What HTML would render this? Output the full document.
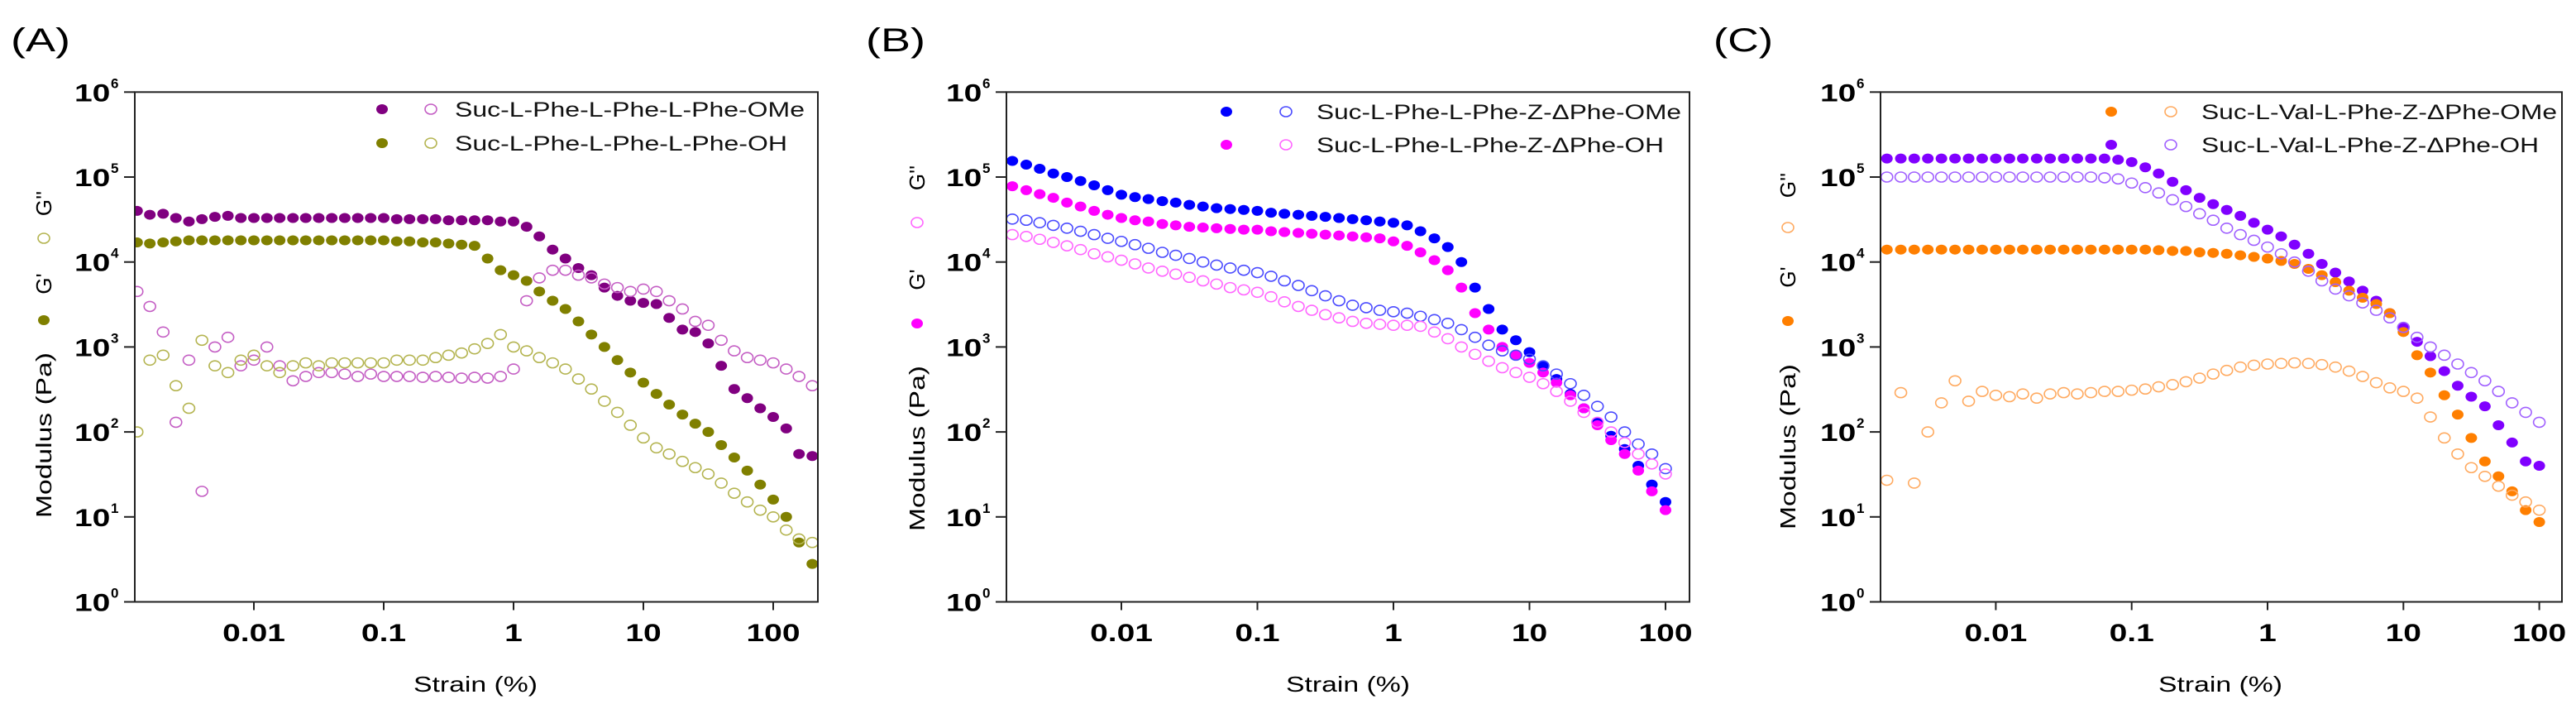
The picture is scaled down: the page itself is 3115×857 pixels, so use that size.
<!DOCTYPE html>
<html><head><meta charset="utf-8"><style>
html,body{margin:0;padding:0;background:#fff;}
svg{display:block;font-family:"Liberation Sans",sans-serif;}
</style></head><body>
<svg id="fig" xmlns="http://www.w3.org/2000/svg" width="3115" height="857" viewBox="0 0 3115 857">
<rect x="0" y="0" width="3115" height="857" fill="#fff"/>
</svg>
<script>
const strainA=[0.00126,0.00158,0.002,0.00251,0.00316,0.00398,0.00501,0.00631,0.00794,
0.01,0.0126,0.0158,0.02,0.0251,0.0316,0.0398,0.0501,0.0631,0.0794,
0.1,0.126,0.158,0.2,0.251,0.316,0.398,0.501,0.631,0.794,
1,1.26,1.58,2,2.51,3.16,3.98,5.01,6.31,7.94,
10,12.6,15.8,20,25.1,31.6,39.8,50.1,63.1,79.4,
100,126,158,200];
const strainBC=[0.00158,0.002,0.00251,0.00316,0.00398,0.00501,0.00631,0.00794,
0.01,0.0126,0.0158,0.02,0.0251,0.0316,0.0398,0.0501,0.0631,0.0794,
0.1,0.126,0.158,0.2,0.251,0.316,0.398,0.501,0.631,0.794,
1,1.26,1.58,2,2.51,3.16,3.98,5.01,6.31,7.94,
10,12.6,15.8,20,25.1,31.6,39.8,50.1,63.1,79.4,100];

const aOMeGp=[40000,36000,37000,33000,30000,32000,34000,35000,33000,33000,
33000,33000,33000,33000,33000,33000,33000,33000,33000,33000,
32000,32000,32000,32000,31000,31000,31000,31000,30000,30000,
26000,20000,14000,11000,8500,7000,5000,4000,3500,3300,
3200,2200,1600,1500,1100,600,320,250,190,150,110,55,52];
const aOMeGpp=[4500,3000,1500,130,700,20,1000,1300,600,700,
1000,600,400,450,500,500,480,450,480,450,
450,450,440,450,440,430,440,430,450,550,
3500,6500,8000,8000,7000,6500,5500,5000,4500,4800,
4500,3500,2800,2000,1800,1200,900,750,700,650,550,450,350];
const aOHGp=[17000,16500,17000,17500,18000,18000,18000,18000,18000,18000,
18000,18000,18000,18000,18000,18000,18000,18000,18000,18000,
17500,17500,17000,17000,16500,16000,15500,11000,8000,7000,
6000,4500,3500,2800,2000,1400,1000,700,500,380,
280,210,160,125,100,70,50,35,24,16,10,5,2.8];
const aOHGpp=[100,700,800,350,190,1200,600,500,700,800,
600,500,600,650,600,650,650,650,650,650,
700,700,700,750,800,850,950,1100,1400,1000,
900,750,650,550,420,320,230,170,120,85,
65,55,45,38,32,25,19,15,12,10,7,5.5,5];

const bOMeGp=[155000,140000,125000,110000,100000,90000,80000,70000,62000,
58000,55000,52000,50000,47000,45000,43000,42000,41000,40000,
38000,37000,36000,35000,34000,33000,32000,31000,30000,29000,
27000,23000,19000,15000,10000,5000,2800,1600,1200,870,
600,420,280,190,130,90,63,40,24,15];
const bOHGp=[78000,70000,63000,57000,50000,45000,40000,36000,33000,
31000,30000,28000,27000,26000,25500,25000,24500,24000,24000,
23000,22500,22000,21500,21000,20500,20000,19500,19000,17500,
15500,13000,10500,8000,5000,2500,1600,1000,800,650,
500,380,270,190,120,80,55,35,20,12];
const bOMeGpp=[32000,31000,29000,27000,25000,23000,21000,19000,17500,
16000,14500,13000,12000,11000,10000,9200,8500,8000,7500,
6800,6000,5300,4600,4000,3500,3100,2900,2700,2600,
2500,2300,2100,1900,1600,1300,1050,900,800,720,
600,480,370,270,200,150,100,72,55,37];
const bOHGpp=[21000,20000,18500,17000,15500,14000,12500,11500,10500,
9500,8500,7800,7200,6600,6000,5500,5000,4700,4400,
3900,3400,3000,2700,2400,2200,2000,1900,1850,1800,
1800,1750,1500,1250,1000,820,680,570,500,440,
370,300,230,170,130,100,75,55,42,32];

const cOHGp=[165000,165000,165000,165000,165000,165000,165000,165000,165000,
165000,165000,165000,165000,165000,165000,165000,165000,160000,150000,
130000,110000,88000,70000,57000,48000,41000,35000,29000,24000,
20000,16000,12500,9500,7500,5900,4600,3500,2500,1700,
1150,780,520,350,260,200,120,75,45,40];
const cOHGpp=[100000,100000,100000,100000,100000,100000,100000,100000,100000,
100000,100000,100000,100000,100000,100000,100000,98000,95000,85000,
75000,65000,54000,45000,37000,31000,25000,21000,18000,15000,
12500,10000,7800,6000,4800,4000,3300,2700,2200,1700,
1300,1000,800,630,500,400,300,220,170,130];
const cOMeGp=[14000,14000,14000,14000,14000,14000,14000,14000,14000,
14000,14000,14000,14000,14000,14000,14000,14000,14000,14000,
14000,13800,13500,13500,13000,12800,12500,12000,11500,11000,
10300,9500,8300,7000,5800,4600,3800,3200,2500,1500,
800,500,270,160,85,45,30,20,12,8.7];
const cOMeGpp=[27,290,25,100,220,400,230,300,270,
260,280,250,280,290,280,290,300,300,310,
320,340,360,390,430,480,530,580,610,630,
640,650,640,620,580,520,450,380,330,300,
250,150,85,55,38,30,23,18,15,12];

const xTickVals=[0.01,0.1,1,10,100];
const xTickLabels=["0.01","0.1","1","10","100"];
const yTickExps=[0,1,2,3,4,5,6];

const NS="http://www.w3.org/2000/svg";
const svg=document.getElementById('fig');
function mk(tag,attrs,parent){const e=document.createElementNS(NS,tag);for(const k in attrs)e.setAttribute(k,attrs[k]);(parent||svg).appendChild(e);return e;}

const Y0=727.5, YD=102.7;
function yScale(v){return Y0-Math.log10(v)*YD;}

const panels=[
 {id:'a',label:'(A)',lx:13,left:163,right:989,x1:621,dec:157,
  series:[
   {name:'ome-storage-modulus',x:strainA,y:aOMeGp,col:'#800080',fill:true},
   {name:'oh-storage-modulus',x:strainA,y:aOHGp,col:'#808000',fill:true},
   {name:'ome-loss-modulus',x:strainA,y:aOMeGpp,col:'#c45ec4',fill:false},
   {name:'oh-loss-modulus',x:strainA,y:aOHGpp,col:'#b4b450',fill:false}],
  legend:{fx:462,ox:521,tx:550,y:[132,173],w:[423,402],
   names:['Suc-L-Phe-L-Phe-L-Phe-OMe','Suc-L-Phe-L-Phe-L-Phe-OH'],
   fc:['#800080','#808000'],oc:['#c45ec4','#b4b450']},
  yt:{x:53,mod:526,fd:387,g1:343,od:288,g2:246,fc:'#808000',oc:'#b4b450'},
  sx:575},
 {id:'b',label:'(B)',lx:1047,left:1217,right:2043,x1:1685,dec:164.5,
  series:[
   {name:'ome-storage-modulus',x:strainBC,y:bOMeGp,col:'#0000ff',fill:true},
   {name:'oh-storage-modulus',x:strainBC,y:bOHGp,col:'#ff00ff',fill:true},
   {name:'ome-loss-modulus',x:strainBC,y:bOMeGpp,col:'#4a4aff',fill:false},
   {name:'oh-loss-modulus',x:strainBC,y:bOHGpp,col:'#ff66ff',fill:false}],
  legend:{fx:1483,ox:1555,tx:1592,y:[135,175],w:[441,420],
   names:['Suc-L-Phe-L-Phe-Z-\u0394Phe-OMe','Suc-L-Phe-L-Phe-Z-\u0394Phe-OH'],
   fc:['#0000ff','#ff00ff'],oc:['#4a4aff','#ff66ff']},
  yt:{x:1109,mod:542,fd:391,g1:338,od:269,g2:215,fc:'#ff00ff',oc:'#ff66ff'},
  sx:1630},
 {id:'c',label:'(C)',lx:2072,left:2274,right:3098,x1:2742,dec:164.3,
  series:[
   {name:'oh-storage-modulus',x:strainBC,y:cOHGp,col:'#8000ff',fill:true},
   {name:'ome-storage-modulus',x:strainBC,y:cOMeGp,col:'#ff7f00',fill:true},
   {name:'oh-loss-modulus',x:strainBC,y:cOHGpp,col:'#a060ff',fill:false},
   {name:'ome-loss-modulus',x:strainBC,y:cOMeGpp,col:'#ffaa60',fill:false}],
  legend:{fx:2553,ox:2625,tx:2662,y:[135,175],w:[430,408],
   names:['Suc-L-Val-L-Phe-Z-\u0394Phe-OMe','Suc-L-Val-L-Phe-Z-\u0394Phe-OH'],
   fc:['#ff7f00','#8000ff'],oc:['#ffaa60','#a060ff']},
  yt:{x:2162,mod:540,fd:388,g1:335,od:275,g2:224,fc:'#ff7f00',oc:'#ffaa60'},
  sx:2685}
];

panels.forEach(p=>{
 const g=mk('g',{});
 
 
 const xs=v=>p.x1+Math.log10(v)*p.dec;
 // panel label
 const lab=mk('text',{x:p.lx,y:62,'font-size':40,textLength:72,lengthAdjust:'spacingAndGlyphs',fill:'#000'},g);
 lab.textContent=p.label;
 
 
 // clip
 const cp=mk('clipPath',{id:'clip'+p.id},g);
 mk('rect',{x:p.left,y:Y0-6*YD,width:p.right-p.left,height:6*YD},cp);
 // series
 const plot=mk('g',{'clip-path':'url(#clip'+p.id+')'},g);
 
 
 p.series.forEach(s=>{
  const sg=mk('g',{},plot);
  
  
  s.y.forEach((v,i)=>{
   const e=mk('ellipse',{cx:xs(s.x[i]),cy:yScale(v),rx:7,ry:6,
     fill:s.fill?s.col:'none',stroke:s.col,'stroke-width':s.fill?0:1.6},sg);
   
   
  });
 });
 // frame
 const fr=mk('rect',{x:p.left,y:Y0-6*YD,width:p.right-p.left,height:6*YD,fill:'none',stroke:'#222','stroke-width':2},g);
 
 
 // y ticks
 yTickExps.forEach(e=>{
  const y=Y0-e*YD;
  mk('line',{x1:p.left-13,x2:p.left,y1:y,y2:y,stroke:'#222','stroke-width':2},g);
  const t=mk('text',{transform:`translate(${p.left-73},${y+11}) scale(1.3,1)`,'font-size':30,'font-weight':'bold',fill:'#000'},g);
  t.textContent='10';
  
  
  const ex=mk('text',{x:p.left-29,y:y-5,'font-size':17,'font-weight':'bold',fill:'#000'},g);
  ex.textContent=String(e);
 });
 // x ticks
 xTickVals.forEach((v,i)=>{
  const x=xs(v);
  mk('line',{x1:x,x2:x,y1:Y0,y2:Y0+10,stroke:'#222','stroke-width':2},g);
  const t=mk('text',{transform:`translate(${x},775) scale(1.3,1)`,'font-size':30,'font-weight':'bold','text-anchor':'middle',fill:'#000'},g);
  t.textContent=xTickLabels[i];
  
  
 });
 // x title
 const xt=mk('text',{x:p.sx-75,y:836,'font-size':26,textLength:150,lengthAdjust:'spacingAndGlyphs',fill:'#000'},g);
 xt.textContent='Strain (%)';
 
 
 // y title group
 const yt=p.yt;
 const mt=mk('text',{transform:`translate(${yt.x+9},${yt.mod}) rotate(-90)`,'font-size':26,'text-anchor':'middle',textLength:200,lengthAdjust:'spacingAndGlyphs',fill:'#000'},g);
 mt.textContent='Modulus (Pa)';
 
 
 mk('ellipse',{cx:yt.x,cy:yt.fd,rx:7,ry:6,fill:yt.fc},g);
 const g1=mk('text',{transform:`translate(${yt.x+9},${yt.g1}) rotate(-90)`,'font-size':26,'text-anchor':'middle',fill:'#000'},g);
 g1.textContent="G'";
 
 
 mk('ellipse',{cx:yt.x,cy:yt.od,rx:7,ry:6,fill:'none',stroke:yt.oc,'stroke-width':1.6},g);
 const g2=mk('text',{transform:`translate(${yt.x+9},${yt.g2}) rotate(-90)`,'font-size':26,'text-anchor':'middle',fill:'#000'},g);
 g2.textContent="G''";
 
 
 // legend
 const L=p.legend;
 const lg=mk('g',{},g);
 
 
 L.names.forEach((n,i)=>{
  const row=mk('g',{},lg);
  
  
  mk('ellipse',{cx:L.fx,cy:L.y[i],rx:7,ry:6,fill:L.fc[i]},row);
  mk('ellipse',{cx:L.ox,cy:L.y[i],rx:7,ry:6,fill:'none',stroke:L.oc[i],'stroke-width':1.6},row);
  const t=mk('text',{x:L.tx,y:L.y[i]+9,'font-size':25,textLength:L.w[i],lengthAdjust:'spacingAndGlyphs',fill:'#111'},row);
  t.textContent=n;
 });
});
</script>
</body></html>
